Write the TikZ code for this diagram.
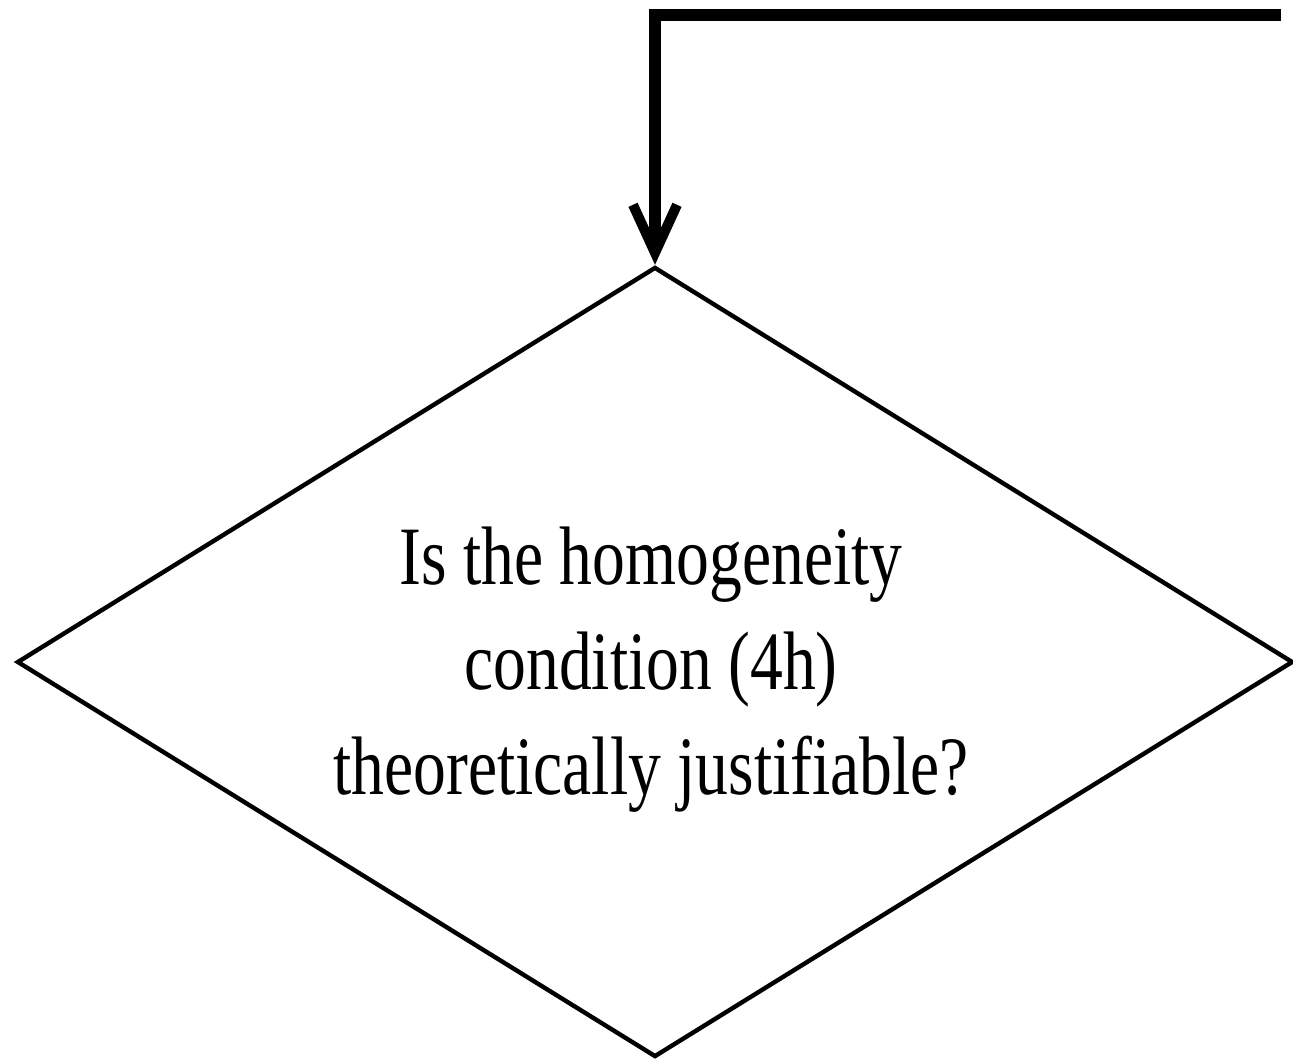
\documentclass[tikz,border=0pt]{standalone}
\usepackage{fontspec}
\usepackage{tikz}
\usetikzlibrary{positioning,arrows.meta,shapes.geometric}
\newfontfamily\qfont[FakeStretch=0.79]{Liberation Serif}
\tikzset{
  decn/.style={diamond,draw,line width=2.2pt,aspect=1.6,minimum width=638pt,minimum height=395pt,inner sep=0pt},
  flow/.style={line width=6pt,line join=miter,-{Straight Barb[length=24pt,width=22pt,line width=5pt]}},
  qlab/.style={align=center,font=\qfont\fontsize{41.5}{52.5}\selectfont,inner sep=0pt}
}
\begin{document}
\begin{tikzpicture}[x=0.5pt,y=-0.5pt]
      \useasboundingbox (0,0) rectangle (1293,1060);
      \node[decn] (dec) at (655,662) {};
      \node[qlab] (q) at (651,670) {Is the homogeneity\\condition (4h)\\theoretically justifiable?};
      \coordinate (src) at (1281,15);
      \draw[flow] (src) -| (dec.north);
    \end{tikzpicture}
\end{document}
